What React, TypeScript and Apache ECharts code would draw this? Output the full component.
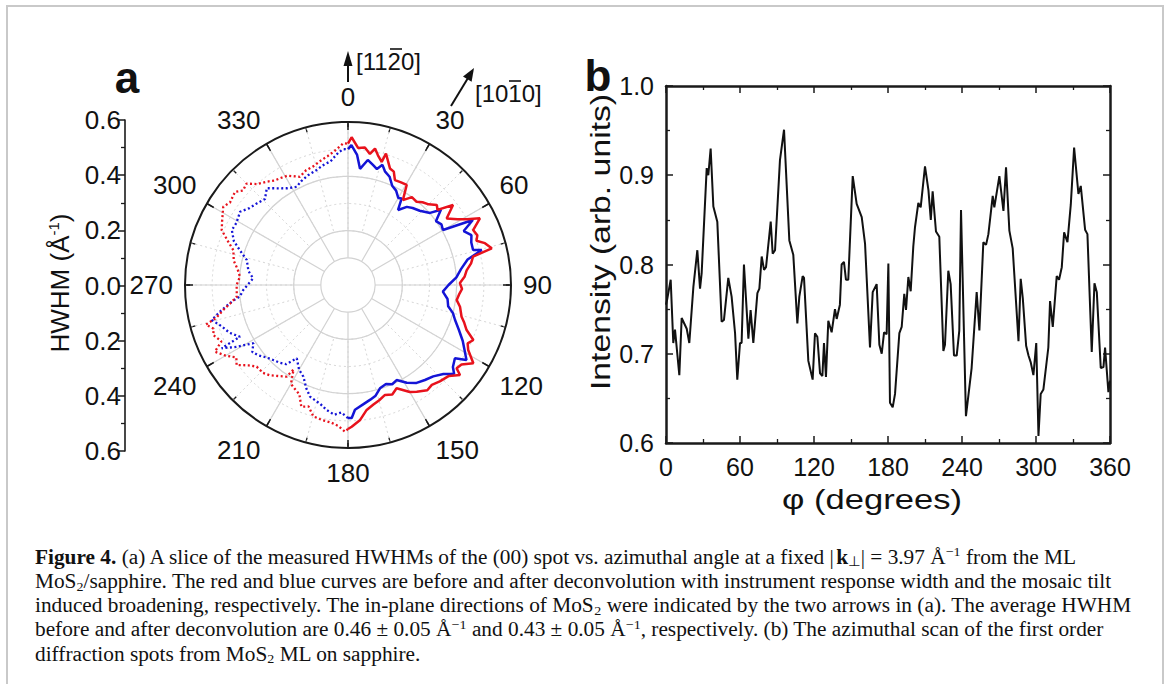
import React, { useEffect, useRef } from "react";
import * as echarts from "echarts";

const SANS = "'Liberation Sans', Arial, sans-serif";
const SERIF = "'Liberation Serif', 'Times New Roman', serif";

// ---------- panel a : HWHM (Å^-1) vs azimuth (deg) ----------
// before deconvolution (red), 0..180 drawn solid
const redAngleA = [0, 1.4, 4.2, 7, 9.5, 11.2, 13, 15.3, 16.1, 19.8, 22, 24.1, 27, 30.4, 32.9, 36, 39.5, 42, 45, 48, 50, 52.7, 56, 59, 61, 63.2, 66.3, 69, 71, 73, 75.7, 77.2, 80, 83, 86, 89, 92, 95, 97.9, 101, 105.6, 108, 110.8, 113.7, 116, 118.4, 122, 125, 127.5, 128.8, 132, 136.4, 140, 143, 147.2, 150, 154.8, 158, 161.4, 165, 168, 171.5, 175, 178.5, 180];
const redHwhmA = [0.52, 0.544, 0.506, 0.51, 0.489, 0.512, 0.49, 0.47, 0.504, 0.456, 0.45, 0.423, 0.425, 0.427, 0.372, 0.4, 0.397, 0.41, 0.42, 0.44, 0.43, 0.486, 0.438, 0.47, 0.5, 0.544, 0.503, 0.51, 0.5, 0.527, 0.546, 0.472, 0.46, 0.44, 0.43, 0.412, 0.42, 0.41, 0.404, 0.42, 0.434, 0.45, 0.467, 0.504, 0.49, 0.503, 0.544, 0.51, 0.504, 0.529, 0.5, 0.49, 0.48, 0.485, 0.467, 0.455, 0.42, 0.435, 0.427, 0.44, 0.45, 0.465, 0.5, 0.522, 0.53];
// red, 180..360 drawn dotted
const redAngleB = [180, 181.2, 184, 187, 191, 194.8, 198, 201, 204, 207, 210, 212.8, 213.8, 217, 221, 224, 228.2, 231, 234.3, 237, 240, 243.4, 246, 249.6, 252, 254.4, 256, 258.7, 261, 264, 267, 270, 274.4, 278, 282, 286.9, 290, 293.5, 297, 302.1, 305, 309.5, 312, 315, 318, 321.8, 325, 327.5, 331, 336, 340, 343.7, 348, 351, 355, 358.1, 360];
const redHwhmB = [0.53, 0.54, 0.52, 0.51, 0.506, 0.5, 0.47, 0.48, 0.44, 0.43, 0.42, 0.37, 0.406, 0.42, 0.44, 0.45, 0.451, 0.47, 0.505, 0.49, 0.52, 0.548, 0.51, 0.529, 0.52, 0.543, 0.5, 0.468, 0.44, 0.412, 0.41, 0.41, 0.399, 0.41, 0.43, 0.441, 0.47, 0.507, 0.52, 0.542, 0.53, 0.539, 0.52, 0.528, 0.5, 0.484, 0.47, 0.466, 0.46, 0.436, 0.45, 0.455, 0.47, 0.48, 0.5, 0.522, 0.52];
// after deconvolution (blue)
const blueAngleA = [0, 1.4, 4, 5.9, 9, 12, 14, 16, 18, 21, 24, 27, 30, 31.8, 33.7, 37, 40, 44, 48.7, 51, 54, 57, 59.9, 62.5, 65, 68, 71, 74.4, 75.3, 78, 82, 86, 90, 94, 98, 102, 105, 108, 112, 116, 119, 122.3, 124.4, 128, 130, 133, 137, 141, 145, 149, 152.9, 156, 159, 162.8, 166, 169, 172, 176.8, 178.4, 180];
const blueHwhmA = [0.5, 0.515, 0.48, 0.43, 0.466, 0.45, 0.44, 0.46, 0.44, 0.427, 0.4, 0.39, 0.37, 0.375, 0.332, 0.36, 0.37, 0.38, 0.402, 0.44, 0.4, 0.41, 0.404, 0.518, 0.47, 0.49, 0.48, 0.478, 0.509, 0.45, 0.42, 0.4, 0.37, 0.35, 0.37, 0.377, 0.4, 0.414, 0.44, 0.47, 0.49, 0.516, 0.477, 0.49, 0.51, 0.48, 0.46, 0.45, 0.44, 0.42, 0.393, 0.4, 0.39, 0.398, 0.42, 0.43, 0.44, 0.46, 0.49, 0.49];
const blueAngleB = [180, 183, 186, 189.7, 193, 198.8, 202, 206, 210, 215, 218, 221, 224.9, 228, 232, 235, 238.4, 241, 243.4, 244.4, 248, 252, 255.6, 258.8, 262, 264, 267.3, 270, 274, 278, 283.9, 288, 291, 295.3, 299, 304.2, 308, 312, 316, 320, 324, 328, 332.4, 336, 340, 344.8, 348, 352, 356, 358, 360];
const blueHwhmB = [0.49, 0.47, 0.48, 0.467, 0.45, 0.434, 0.41, 0.375, 0.36, 0.329, 0.37, 0.38, 0.39, 0.4, 0.42, 0.43, 0.409, 0.47, 0.52, 0.441, 0.47, 0.49, 0.518, 0.474, 0.43, 0.4, 0.386, 0.37, 0.35, 0.37, 0.384, 0.42, 0.45, 0.473, 0.47, 0.48, 0.46, 0.45, 0.44, 0.465, 0.44, 0.42, 0.408, 0.42, 0.43, 0.439, 0.45, 0.46, 0.49, 0.5, 0.5];

// ---------- panel b : azimuthal scan ----------
const phiDeg = [0, 1.1, 3.8, 5.9, 7.3, 10.8, 12.7, 16.8, 18.9, 22.2, 25.4, 27.6, 28.9, 33, 34.3, 36.2, 38.4, 41.6, 45.1, 47, 50.5, 53.2, 56, 57.8, 60, 61.3, 63.2, 66.8, 68.6, 70.8, 74.1, 75.7, 77.6, 79.5, 81.1, 84.9, 86.5, 88.4, 92.4, 95.7, 100, 103.2, 106.5, 108.1, 110.8, 111.9, 115.4, 118.9, 120.8, 122.7, 124.9, 126.8, 128.1, 129.7, 131.6, 134.3, 137, 138.4, 141, 142.4, 144.3, 145.9, 147.8, 151.4, 154.6, 158.7, 161.4, 165.4, 167.6, 170.8, 173, 174.9, 176.8, 178.9, 180.3, 181.6, 183.8, 185.7, 189.2, 191.1, 193.2, 194.6, 196.5, 198.4, 200.5, 201.9, 204.6, 206.5, 210, 212.8, 214.7, 216.2, 218.9, 221.6, 224.9, 226.2, 228.9, 230.8, 233.5, 235.7, 237.8, 239.2, 243.2, 247.8, 251.9, 254.1, 257.3, 259.5, 261.4, 264.9, 266.2, 270.3, 273.6, 275.7, 278.4, 281.1, 285.8, 287.6, 289.3, 292, 293.9, 295.8, 297.9, 300.2, 302, 303.8, 306, 310, 311.4, 313.6, 316.8, 318.7, 320.9, 322.8, 325.5, 328.2, 330.9, 334.4, 336.3, 339.8, 341.7, 345.2, 347.4, 349.3, 352.5, 354.7, 356, 358.7, 360];
const intensity = [0.755, 0.762, 0.783, 0.712, 0.727, 0.676, 0.74, 0.728, 0.712, 0.775, 0.816, 0.773, 0.79, 0.908, 0.9, 0.93, 0.865, 0.848, 0.736, 0.738, 0.785, 0.764, 0.723, 0.671, 0.712, 0.712, 0.8, 0.717, 0.749, 0.712, 0.768, 0.773, 0.809, 0.794, 0.797, 0.848, 0.812, 0.816, 0.917, 0.951, 0.827, 0.811, 0.734, 0.764, 0.787, 0.785, 0.692, 0.671, 0.723, 0.719, 0.678, 0.675, 0.712, 0.674, 0.737, 0.724, 0.75, 0.739, 0.755, 0.8, 0.803, 0.783, 0.783, 0.899, 0.868, 0.853, 0.823, 0.707, 0.769, 0.778, 0.71, 0.7, 0.724, 0.722, 0.801, 0.645, 0.64, 0.655, 0.723, 0.73, 0.767, 0.749, 0.786, 0.77, 0.82, 0.842, 0.869, 0.864, 0.91, 0.883, 0.85, 0.882, 0.837, 0.831, 0.703, 0.71, 0.793, 0.778, 0.698, 0.698, 0.726, 0.861, 0.63, 0.684, 0.769, 0.726, 0.825, 0.822, 0.834, 0.877, 0.864, 0.899, 0.86, 0.909, 0.838, 0.818, 0.714, 0.784, 0.762, 0.709, 0.698, 0.69, 0.676, 0.712, 0.608, 0.655, 0.66, 0.707, 0.759, 0.73, 0.787, 0.783, 0.797, 0.836, 0.825, 0.867, 0.931, 0.879, 0.888, 0.839, 0.834, 0.702, 0.779, 0.769, 0.684, 0.685, 0.707, 0.657, 0.67];

const captionLines = [
  "{b|Figure 4.} (a) A slice of the measured HWHMs of the (00) spot vs. azimuthal angle at a fixed |{k|k}{sub|⊥}| = 3.97 Å{sup|−1} from the ML",
  "MoS{sub|2}/sapphire. The red and blue curves are before and after deconvolution with instrument response width and the mosaic tilt",
  "induced broadening, respectively. The in-plane directions of MoS{sub|2} were indicated by the two arrows in (a). The average HWHM",
  "before and after deconvolution are 0.46 ± 0.05 Å{sup|−1} and 0.43 ± 0.05 Å{sup|−1}, respectively. (b) The azimuthal scan of the first order",
  "diffraction spots from MoS{sub|2} ML on sapphire.",
];

const RED = "#e8121c";
const BLUE = "#1414d6";
const AX = "#1a1a1a";

function polarPairs(angles: number[], vals: number[]) {
  return angles.map((a, i) => [vals[i], a]);
}

function buildOption() {
  const CX = 348, CY = 285, R = 163;
  const capFont = 20.5;
  const capRich = {
    b: { fontFamily: SERIF, fontSize: capFont, fontWeight: "bold", fill: "#111" },
    k: { fontFamily: SERIF, fontSize: capFont, fontWeight: "bold", fill: "#111" },
    sub: { fontFamily: SERIF, fontSize: 13.5, lineHeight: 14, verticalAlign: "bottom", fill: "#111" },
    sup: { fontFamily: SERIF, fontSize: 13.5, lineHeight: 14, verticalAlign: "top", fill: "#111" },
  };
  const graphic: any[] = [
    { type: "rect", shape: { x: 7, y: 6, width: 1156, height: 720 }, style: { fill: "none", stroke: "#c9c9c9", lineWidth: 2 }, silent: true },
    { type: "text", x: 127, y: 77, style: { text: "a", fontFamily: SANS, fontWeight: "bold", fontSize: 44, fill: "#111", align: "center", verticalAlign: "middle" } },
    { type: "text", x: 598, y: 75, style: { text: "b", fontFamily: SANS, fontWeight: "bold", fontSize: 44, fill: "#111", align: "center", verticalAlign: "middle" } },
    {
      type: "text", x: 60, y: 283, rotation: Math.PI / 2,
      style: {
        text: "HWHM (Å{sup|-1})", fontFamily: SANS, fontSize: 26, fill: "#111", align: "center", verticalAlign: "middle", lineHeight: 28,
        rich: { sup: { fontFamily: SANS, fontSize: 15, lineHeight: 16, verticalAlign: "top", fill: "#111" } },
      },
    },
    { type: "text", x: 600, y: 242, rotation: Math.PI / 2, scaleX: 1.25, style: { text: "Intensity (arb. units)", fontFamily: SANS, fontSize: 27, fill: "#111", align: "center", verticalAlign: "middle" } },
    { type: "text", x: 872, y: 500, scaleX: 1.28, style: { text: "φ (degrees)", fontFamily: SANS, fontSize: 27, fill: "#111", align: "center", verticalAlign: "middle" } },
    // direction arrows
    { type: "line", shape: { x1: 348, y1: 64, x2: 348, y2: 82 }, style: { stroke: "#111", lineWidth: 2 } },
    { type: "polygon", shape: { points: [[348, 51], [343.5, 66], [352.5, 66]] }, style: { fill: "#111" } },
    { type: "text", x: 356, y: 61, style: { text: "[1120]", fontFamily: SANS, fontSize: 24, fill: "#111", align: "left", verticalAlign: "middle" } },
    { type: "line", shape: { x1: 390, y1: 49, x2: 402, y2: 49 }, style: { stroke: "#111", lineWidth: 1.6 } },
    { type: "line", shape: { x1: 451, y1: 106, x2: 468, y2: 78 }, style: { stroke: "#111", lineWidth: 2 } },
    { type: "polygon", shape: { points: [[474, 68], [471.6, 81.7], [463, 76.5]] }, style: { fill: "#111" } },
    { type: "text", x: 475, y: 93, style: { text: "[1010]", fontFamily: SANS, fontSize: 24, fill: "#111", align: "left", verticalAlign: "middle" } },
    { type: "line", shape: { x1: 509, y1: 81, x2: 521, y2: 81 }, style: { stroke: "#111", lineWidth: 1.6 } },
  ];
  captionLines.forEach((t, i) => {
    graphic.push({
      type: "text", x: 35, y: 557 + i * 24.2, scaleX: 1.04,
      style: { text: t, fontFamily: SERIF, fontSize: capFont, fill: "#111", lineHeight: 24, align: "left", verticalAlign: "middle", rich: capRich },
    });
  });

  const solidTick = { show: true, inside: true, length: 7, lineStyle: { color: AX, width: 1.5 } };
  const minorTick = { show: true, splitNumber: 2, length: 4, lineStyle: { color: AX, width: 1.3 } };
  const boxLine = { show: true, onZero: false, lineStyle: { color: AX, width: 2.5 } };
  const hidden = { axisLine: { show: false }, axisTick: { show: false }, axisLabel: { show: false } };

  return {
    animation: false,
    backgroundColor: "#ffffff",
    graphic,
    polar: [
      { center: [CX, CY], radius: [0, R] },
      { center: [CX, CY], radius: [R / 6, R] },
      { center: [CX, CY], radius: [R / 3, R] },
    ],
    angleAxis: [
      {
        polarIndex: 0, type: "value", min: 0, max: 360, interval: 30, startAngle: 90, clockwise: true, z: 4,
        axisLine: { show: true, lineStyle: { color: AX, width: 2 } },
        axisTick: { show: true, inside: true, length: 8, lineStyle: { color: AX, width: 1.5 } },
        axisLabel: { show: true, fontFamily: SANS, fontSize: 26, color: "#111", margin: 12 },
        splitLine: { show: false },
      },
      {
        polarIndex: 1, type: "value", min: 0, max: 360, interval: 30, startAngle: 90, clockwise: true, z: 2,
        ...hidden,
        splitLine: { show: true, lineStyle: { color: "#d2d2d2", width: 1.2 } },
      },
      {
        polarIndex: 2, type: "value", min: 0, max: 360, interval: 15, startAngle: 90, clockwise: true, z: 3,
        axisLine: { show: false },
        axisTick: { show: true, inside: true, length: 5, lineStyle: { color: AX, width: 1.3 } },
        axisLabel: { show: false },
        splitLine: { show: true, lineStyle: { color: "#d6d6d6", width: 1, type: [2, 3] } },
      },
    ],
    radiusAxis: [
      { polarIndex: 0, type: "value", min: 0, max: 0.6, ...hidden, splitLine: { show: false } },
      {
        polarIndex: 1, type: "value", min: 0.1, max: 0.6, interval: 0.1, ...hidden,
        splitLine: { show: true, lineStyle: { color: ["#d2d2d2", "#d2d2d2", "rgba(0,0,0,0)", "#d2d2d2", "rgba(0,0,0,0)", "rgba(0,0,0,0)"], width: 1.2 } },
      },
      {
        polarIndex: 2, type: "value", min: 0.2, max: 0.6, interval: 0.1, ...hidden,
        splitLine: { show: true, lineStyle: { color: "#d6d6d6", width: 1, type: [2, 3] } },
      },
    ],
    grid: [
      { left: 125, top: 120, width: 1, height: 331, containLabel: false },
      { left: 666, top: 86, width: 444, height: 357, containLabel: false },
    ],
    xAxis: [
      { gridIndex: 0, type: "value", show: false, min: 0, max: 1 },
      {
        gridIndex: 1, type: "value", min: 0, max: 360, interval: 60, position: "bottom",
        axisLine: boxLine, axisTick: solidTick, minorTick,
        axisLabel: { fontFamily: SANS, fontSize: 25, color: "#111", margin: 11 },
        splitLine: { show: false },
      },
      {
        gridIndex: 1, type: "value", min: 0, max: 360, interval: 60, position: "top",
        axisLine: boxLine, axisTick: solidTick, minorTick, axisLabel: { show: false }, splitLine: { show: false },
      },
    ],
    yAxis: [
      {
        gridIndex: 0, type: "value", min: -0.6, max: 0.6, interval: 0.2, position: "left",
        axisLine: { show: true, onZero: false, lineStyle: { color: AX, width: 1.6 } },
        axisTick: { show: true, inside: false, length: 7, lineStyle: { color: AX, width: 1.5 } },
        minorTick: { show: true, splitNumber: 2, length: 4, lineStyle: { color: AX, width: 1.3 } },
        axisLabel: { fontFamily: SANS, fontSize: 26, color: "#111", margin: 4, formatter: (v: number) => Math.abs(v).toFixed(1) },
        splitLine: { show: false },
      },
      {
        gridIndex: 1, type: "value", min: 0.6, max: 1.0, interval: 0.1, position: "left",
        axisLine: boxLine, axisTick: solidTick, minorTick,
        axisLabel: { fontFamily: SANS, fontSize: 25, color: "#111", margin: 12, formatter: (v: number) => v.toFixed(1) },
        splitLine: { show: false },
      },
      {
        gridIndex: 1, type: "value", min: 0.6, max: 1.0, interval: 0.1, position: "right",
        axisLine: boxLine, axisTick: solidTick, minorTick, axisLabel: { show: false }, splitLine: { show: false },
      },
    ],
    series: [
      {
        name: "HWHM after (solid)", type: "line", coordinateSystem: "polar", polarIndex: 0, showSymbol: false, z: 5,
        data: polarPairs(blueAngleA, blueHwhmA), lineStyle: { color: BLUE, width: 2.5 },
      },
      {
        name: "HWHM before (solid)", type: "line", coordinateSystem: "polar", polarIndex: 0, showSymbol: false, z: 6,
        data: polarPairs(redAngleA, redHwhmA), lineStyle: { color: RED, width: 2.5 },
      },
      {
        name: "HWHM after (dotted)", type: "line", coordinateSystem: "polar", polarIndex: 0, showSymbol: false, z: 5,
        data: polarPairs(blueAngleB, blueHwhmB), lineStyle: { color: BLUE, width: 2.3, type: [2, 2.5] },
      },
      {
        name: "HWHM before (dotted)", type: "line", coordinateSystem: "polar", polarIndex: 0, showSymbol: false, z: 6,
        data: polarPairs(redAngleB, redHwhmB), lineStyle: { color: RED, width: 2.3, type: [2, 2.5] },
      },
      {
        name: "Intensity", type: "line", xAxisIndex: 1, yAxisIndex: 1, showSymbol: false, z: 5,
        data: phiDeg.map((p, i) => [p, intensity[i]]), lineStyle: { color: "#111", width: 2 },
      },
    ],
  };
}

export default function App() {
  const ref = useRef<HTMLDivElement>(null);
  useEffect(() => {
    const chart = echarts.init(ref.current!, undefined, { renderer: "svg" });
    chart.setOption(buildOption() as any);
    return () => chart.dispose();
  }, []);
  return (
    <div
      ref={ref}
      style={{ position: "fixed", left: 0, top: 0, width: 1170, height: 684, background: "#fff" }}
    />
  );
}
